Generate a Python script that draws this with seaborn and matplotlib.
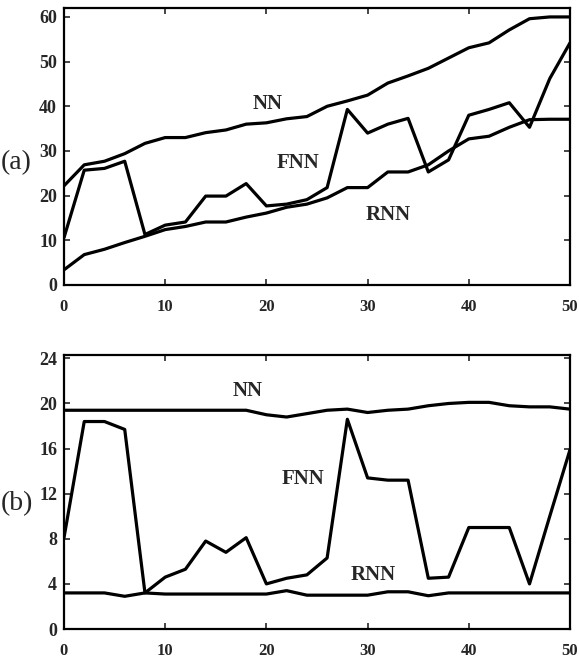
import numpy as np
import pandas as pd
import matplotlib
matplotlib.use("Agg")
import matplotlib.pyplot as plt
import seaborn as sns

# x positions (every 2 steps)
steps = list(range(0, 51, 2))

# panel (a)
nn_a = [22.2, 26.9, 27.7, 29.4, 31.7, 33.0, 33.0, 34.1, 34.7, 36.0, 36.3, 37.2, 37.7,
        40.0, 41.2, 42.5, 45.2, 46.8, 48.5, 50.8, 53.1, 54.2, 57.1, 59.6, 60.0, 60.0]
fnn_a = [10.6, 25.7, 26.1, 27.7, 11.3, 13.4, 14.1, 19.9, 19.9, 22.7, 17.7, 18.1, 19.1,
         21.8, 39.3, 34.0, 36.0, 37.3, 25.3, 28.0, 38.0, 39.3, 40.8, 35.3, 46.2, 54.2]
rnn_a = [3.4, 6.8, 8.0, 9.5, 10.9, 12.4, 13.1, 14.1, 14.1, 15.2, 16.1, 17.4, 18.1,
         19.5, 21.8, 21.8, 25.3, 25.3, 26.9, 30.0, 32.7, 33.3, 35.3, 37.0, 37.1, 37.1]

# panel (b)
nn_b = [19.4, 19.4, 19.4, 19.4, 19.4, 19.4, 19.4, 19.4, 19.4, 19.4, 19.0, 18.8, 19.1,
        19.4, 19.5, 19.2, 19.4, 19.5, 19.8, 20.0, 20.1, 20.1, 19.8, 19.7, 19.7, 19.5]
fnn_b = [8.1, 18.4, 18.4, 17.7, 3.2, 4.6, 5.3, 7.8, 6.8, 8.1, 4.0, 4.5, 4.8,
         6.3, 18.6, 13.4, 13.2, 13.2, 4.5, 4.6, 9.0, 9.0, 9.0, 4.0, 10.0, 15.9]
rnn_b = [3.2, 3.2, 3.2, 2.9, 3.2, 3.1, 3.1, 3.1, 3.1, 3.1, 3.1, 3.4, 3.0,
         3.0, 3.0, 3.0, 3.3, 3.3, 2.95, 3.2, 3.2, 3.2, 3.2, 3.2, 3.2, 3.2]

sns.set_style("ticks")
plt.rcParams["font.family"] = ["Liberation Serif", "DejaVu Serif"]

fig = plt.figure(figsize=(5.79, 6.71), dpi=100)
W, H = 579, 671
ax_a = fig.add_axes([64 / W, 1 - 285 / H, (570 - 64) / W, (285 - 8) / H])
ax_b = fig.add_axes([64 / W, 1 - 629 / H, (570 - 64) / W, (629 - 355) / H])


def draw(ax, nn, fnn, rnn, ymax, yticks, labels):
    df = pd.DataFrame({"x": steps * 3,
                       "y": nn + fnn + rnn,
                       "model": ["NN"] * len(steps) + ["FNN"] * len(steps) + ["RNN"] * len(steps)})
    sns.lineplot(data=df, x="x", y="y", units="model", estimator=None,
                 color="black", linewidth=2.3, ax=ax, legend=False)
    ax.set_xlim(0, 50)
    ax.set_ylim(0, ymax)
    ax.set_xticks(range(0, 51, 10))
    ax.set_yticks(yticks)
    ax.set_xlabel("")
    ax.set_ylabel("")
    ax.tick_params(direction="in", length=4, width=1.2, top=True, right=True)
    ax.tick_params(axis="x", pad=10, labelsize=12)
    ax.tick_params(axis="y", pad=5, labelsize=13)
    for lab in ax.get_xticklabels() + ax.get_yticklabels():
        lab.set_fontweight("bold")
    for sp in ax.spines.values():
        sp.set_linewidth(1.6)
        sp.set_color("black")
    for txt, (tx, ty) in labels.items():
        ax.text(tx, ty, txt, fontsize=15, ha="center", va="center",
                fontweight="bold")


draw(ax_a, nn_a, fnn_a, rnn_a, 62, range(0, 61, 10),
     {"NN": (20.1, 40.5), "FNN": (23.1, 27.3), "RNN": (32.0, 15.6)})
draw(ax_b, nn_b, fnn_b, rnn_b, 24.3, range(0, 25, 4),
     {"NN": (18.1, 21.1), "FNN": (23.6, 13.3), "RNN": (30.6, 4.8)})

fig.text(1 / W, 1 - 163 / H, "(a)", fontsize=20, ha="left", va="center")
fig.text(1 / W, 1 - 504 / H, "(b)", fontsize=20, ha="left", va="center")

fig.savefig("out.png", dpi=100)
